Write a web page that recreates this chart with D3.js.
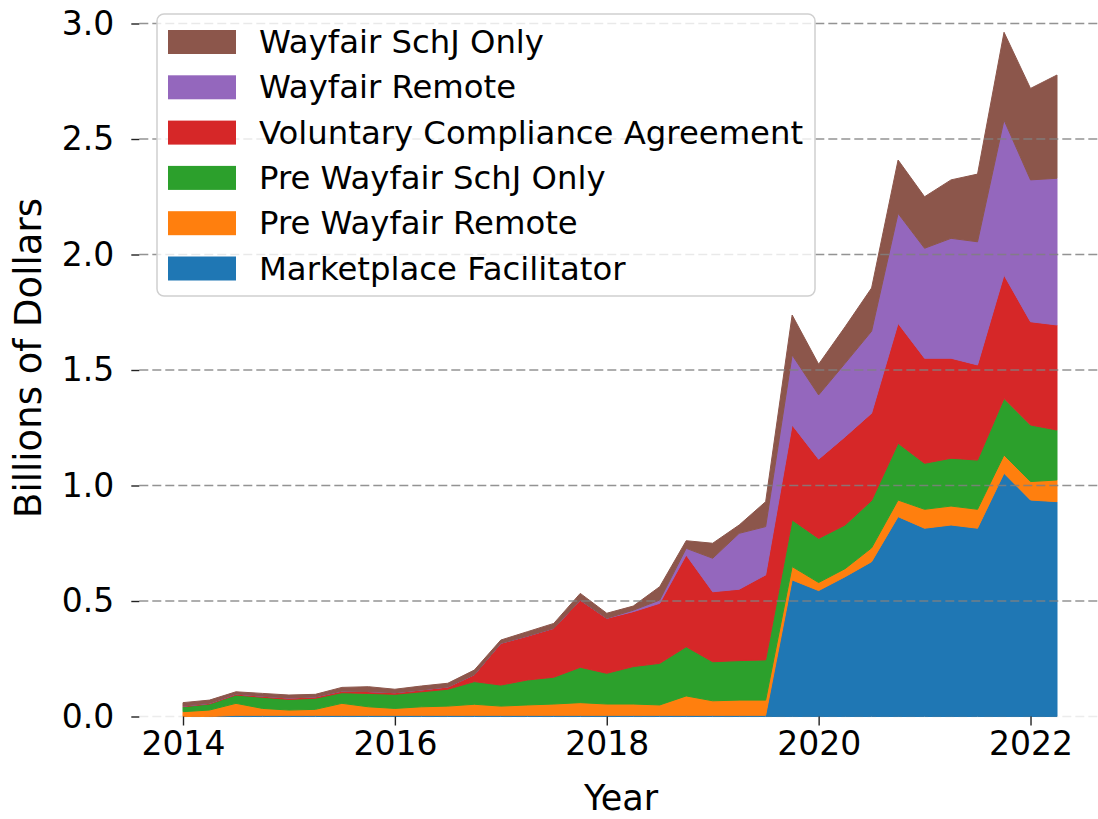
<!DOCTYPE html>
<html>
<head>
<meta charset="utf-8">
<script src="https://cdnjs.cloudflare.com/ajax/libs/d3/7.8.5/d3.min.js"></script>
<style>
  body { margin: 0; background: #fff; }
  text { font-family: "DejaVu Sans", sans-serif; }
</style>
</head>
<body>
<script>
// quarterly observations, year as decimal
var quarters = [2014.00, 2014.25, 2014.50, 2014.75, 2015.00, 2015.25, 2015.50, 2015.75,
                2016.00, 2016.25, 2016.50, 2016.75, 2017.00, 2017.25, 2017.50, 2017.75,
                2018.00, 2018.25, 2018.50, 2018.75, 2019.00, 2019.25, 2019.50, 2019.75,
                2020.00, 2020.25, 2020.50, 2020.75, 2021.00, 2021.25, 2021.50, 2021.75,
                2022.00, 2022.25];

// billions of dollars, one value per quarter
var marketplaceFacilitator = [0, 0, 0.005, 0.005, 0.005, 0.005, 0.005, 0.005,
                              0.005, 0.005, 0.005, 0.005, 0.005, 0.005, 0.005, 0.005,
                              0.005, 0.005, 0.005, 0.005, 0.005, 0.005, 0.005, 0.591,
                              0.545, 0.605, 0.670, 0.865, 0.815, 0.829, 0.815, 1.053,
                              0.937, 0.930];
var preWayfairRemote = [0.021, 0.028, 0.052, 0.030, 0.023, 0.026, 0.052, 0.037,
                        0.030, 0.037, 0.040, 0.048, 0.040, 0.045, 0.049, 0.055,
                        0.049, 0.049, 0.045, 0.084, 0.063, 0.066, 0.066, 0.058,
                        0.035, 0.035, 0.060, 0.072, 0.082, 0.082, 0.082, 0.079,
                        0.080, 0.094];
var preWayfairSchJ = [0.021, 0.026, 0.036, 0.048, 0.046, 0.048, 0.046, 0.058,
                      0.061, 0.065, 0.073, 0.098, 0.091, 0.108, 0.116, 0.153,
                      0.133, 0.162, 0.180, 0.213, 0.169, 0.171, 0.174, 0.202,
                      0.191, 0.189, 0.205, 0.246, 0.199, 0.207, 0.213, 0.245,
                      0.245, 0.216];
var voluntaryCompliance = [0.003, 0.003, 0.004, 0.005, 0.006, 0.006, 0.007, 0.008,
                           0.007, 0.008, 0.010, 0.030, 0.181, 0.190, 0.212, 0.291,
                           0.238, 0.238, 0.260, 0.397, 0.303, 0.309, 0.368, 0.411,
                           0.343, 0.382, 0.378, 0.519, 0.455, 0.433, 0.412, 0.534,
                           0.447, 0.455];
var wayfairRemote = [0, 0, 0, 0, 0, 0, 0, 0,
                     0, 0, 0, 0, 0, 0, 0, 0,
                     0, 0.006, 0.014, 0.029, 0.145, 0.242, 0.209, 0.303,
                     0.278, 0.318, 0.355, 0.476, 0.476, 0.519, 0.533, 0.671,
                     0.614, 0.635];
var wayfairSchJ = [0.015, 0.014, 0.010, 0.012, 0.013, 0.011, 0.016, 0.021,
                   0.015, 0.017, 0.016, 0.020, 0.014, 0.019, 0.021, 0.029,
                   0.022, 0.018, 0.058, 0.033, 0.065, 0.036, 0.108, 0.173,
                   0.133, 0.158, 0.187, 0.231, 0.223, 0.253, 0.293, 0.380,
                   0.396, 0.447];

var seriesNames = ["Marketplace Facilitator", "Pre Wayfair Remote", "Pre Wayfair SchJ Only",
                   "Voluntary Compliance Agreement", "Wayfair Remote", "Wayfair SchJ Only"];
var seriesValues = [marketplaceFacilitator, preWayfairRemote, preWayfairSchJ,
                    voluntaryCompliance, wayfairRemote, wayfairSchJ];
var colors = ["#1f77b4", "#ff7f0e", "#2ca02c", "#d62728", "#9467bd", "#8c564b"];

var yTicks = [0, 0.5, 1.0, 1.5, 2.0, 2.5, 3.0];
var xTicks = [2014, 2016, 2018, 2020, 2022];

var w = 1098;
var h = 819;

// rows for d3.stack
var rows = quarters.map(function(q, i) {
	var r = { q: q };
	seriesNames.forEach(function(name, k) { r[name] = seriesValues[k][i]; });
	return r;
});

var x = d3.scaleLinear().domain([2014, 2022.25]).range([183, 1057]);
var y = d3.scaleLinear().domain([0, 3]).range([716.5, 23.5]);
var xLeft = x(2013.5875), xRight = x(2022.6625);

var svg = d3.select("body")
	.append("svg")
	.attr("width", w)
	.attr("height", h)

var stacked = d3.stack().keys(seriesNames)(rows);

var area = d3.area()
	.x(function(d) { return x(d.data.q); })
	.y0(function(d) { return y(d[0]); })
	.y1(function(d) { return y(d[1]); });

svg.selectAll("path.layer")
	.data(stacked)
	.enter()
	.append("path")
	.attr("class", "layer")
	.attr("d", area)
	.attr("fill", function(d, i) { return colors[i]; })
	.attr("stroke", function(d, i) { return colors[i]; })
	.attr("stroke-width", 1)

// dashed grid on top of the areas
svg.selectAll("line.grid")
	.data(yTicks)
	.enter()
	.append("line")
	.attr("class", "grid")
	.attr("x1", xLeft)
	.attr("x2", xRight)
	.attr("y1", function(d) { return y(d); })
	.attr("y2", function(d) { return y(d); })
	.attr("stroke", "#808080")
	.attr("stroke-opacity", function(d) { return d === 0 ? 0.15 : 0.85; })
	.attr("stroke-width", 1.5)
	.attr("stroke-dasharray", "9,4")

// y axis
var yAxis = svg.append("g")
	.attr("transform", "translate(" + xLeft + ",0)")
	.call(d3.axisLeft(y).tickValues(yTicks).tickFormat(d3.format(".1f")).tickSize(8).tickPadding(17));
yAxis.select(".domain").remove();
yAxis.selectAll("line").attr("stroke", "#222").attr("stroke-width", 1.4);
yAxis.selectAll("text")
	.attr("font-size", "33px")
	.attr("fill", "#000")
	.attr("font-family", "DejaVu Sans")

// x axis
var xAxis = svg.append("g")
	.attr("transform", "translate(0," + y(0) + ")")
	.call(d3.axisBottom(x).tickValues(xTicks).tickFormat(d3.format("d")).tickSize(9).tickPadding(6));
xAxis.select(".domain").remove();
xAxis.selectAll("line").attr("stroke", "#222").attr("stroke-width", 1.4);
xAxis.selectAll("text")
	.attr("font-size", "33px")
	.attr("fill", "#000")
	.attr("font-family", "DejaVu Sans")

// axis titles
svg.append("text")
	.text("Year")
	.attr("x", 621)
	.attr("y", 810)
	.attr("text-anchor", "middle")
	.attr("font-size", "35px")

svg.append("text")
	.text("Billions of Dollars")
	.attr("transform", "translate(41," + 358 + ") rotate(-90)")
	.attr("text-anchor", "middle")
	.attr("font-size", "37px")

// legend, drawn top to bottom in reverse stack order
var legend = svg.append("g");
legend.append("rect")
	.attr("x", 157)
	.attr("y", 14)
	.attr("width", 658)
	.attr("height", 282)
	.attr("rx", 7)
	.attr("fill", "#fff")
	.attr("fill-opacity", 0.8)
	.attr("stroke", "#d0d0d0")
	.attr("stroke-width", 1.5)

var legendOrder = d3.range(seriesNames.length).reverse();
legend.selectAll("rect.sw")
	.data(legendOrder)
	.enter()
	.append("rect")
	.attr("class", "sw")
	.attr("x", 168)
	.attr("y", function(d, i) { return 30 + i * 45.3; })
	.attr("width", 68)
	.attr("height", 24)
	.attr("fill", function(d) { return colors[d]; })

legend.selectAll("text")
	.data(legendOrder)
	.enter()
	.append("text")
	.text(function(d) { return seriesNames[d]; })
	.attr("x", 259)
	.attr("y", function(d, i) { return 53 + i * 45.3; })
	.attr("font-size", "32.3px")
	.attr("fill", "#000")
</script>
</body>
</html>
